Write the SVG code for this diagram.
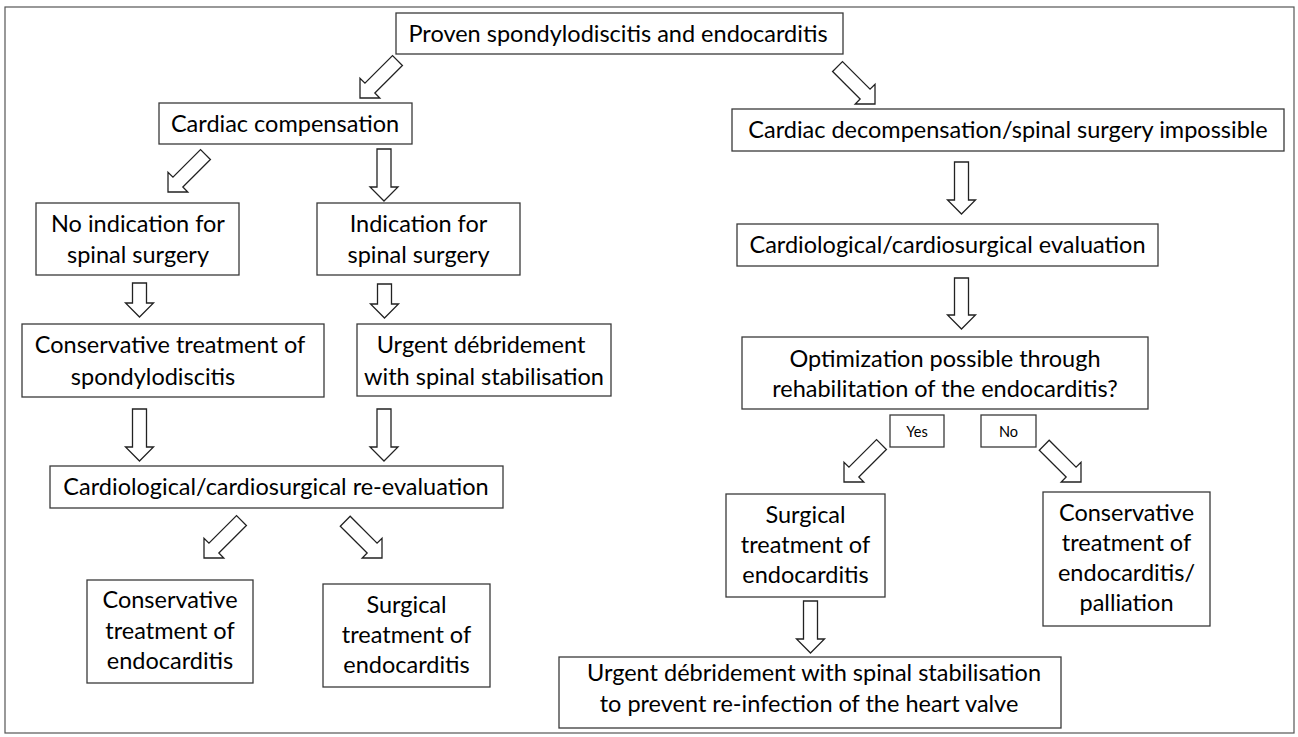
<svg xmlns="http://www.w3.org/2000/svg" width="1298" height="737" viewBox="0 0 1298 737">
<style>
.box{fill:#fff;stroke:#3a3a3a;stroke-width:1.3}
.arr{fill:#fff;stroke:#222;stroke-width:1.3;stroke-linejoin:miter}
text{font-family:Lato,"Open Sans","Liberation Sans",sans-serif;font-size:23.5px;fill:#000;text-anchor:middle}
.sm{font-size:14.5px}
</style>
<rect x="5" y="7" width="1289" height="726" fill="#fff" stroke="#555" stroke-width="1.2"/>
<g id="connectors">
<path class="arr" transform="translate(360,98) rotate(135)" d="M0,0 L-14,-14 L-14,-7 L-53,-7 L-53,7 L-14,7 L-14,14 Z"/>
<path class="arr" transform="translate(875,104) rotate(45)" d="M0,0 L-14,-14 L-14,-7 L-53,-7 L-53,7 L-14,7 L-14,14 Z"/>
<path class="arr" transform="translate(168,192) rotate(135)" d="M0,0 L-14,-14 L-14,-7 L-53,-7 L-53,7 L-14,7 L-14,14 Z"/>
<path class="arr" transform="translate(384,201) rotate(90)" d="M0,0 L-14,-14 L-14,-7 L-52,-7 L-52,7 L-14,7 L-14,14 Z"/>
<path class="arr" transform="translate(139.5,317) rotate(90)" d="M0,0 L-14,-14 L-14,-7 L-34,-7 L-34,7 L-14,7 L-14,14 Z"/>
<path class="arr" transform="translate(384.5,318) rotate(90)" d="M0,0 L-14,-14 L-14,-7 L-34,-7 L-34,7 L-14,7 L-14,14 Z"/>
<path class="arr" transform="translate(139.5,461) rotate(90)" d="M0,0 L-14,-14 L-14,-7 L-52,-7 L-52,7 L-14,7 L-14,14 Z"/>
<path class="arr" transform="translate(384,461) rotate(90)" d="M0,0 L-14,-14 L-14,-7 L-52,-7 L-52,7 L-14,7 L-14,14 Z"/>
<path class="arr" transform="translate(204,558) rotate(135)" d="M0,0 L-14,-14 L-14,-7 L-53,-7 L-53,7 L-14,7 L-14,14 Z"/>
<path class="arr" transform="translate(382,558) rotate(45)" d="M0,0 L-14,-14 L-14,-7 L-52,-7 L-52,7 L-14,7 L-14,14 Z"/>
<path class="arr" transform="translate(961.5,214) rotate(90)" d="M0,0 L-14,-14 L-14,-7 L-52,-7 L-52,7 L-14,7 L-14,14 Z"/>
<path class="arr" transform="translate(961.5,329) rotate(90)" d="M0,0 L-14,-14 L-14,-7 L-51,-7 L-51,7 L-14,7 L-14,14 Z"/>
<path class="arr" transform="translate(844,482) rotate(135)" d="M0,0 L-14,-14 L-14,-7 L-53,-7 L-53,7 L-14,7 L-14,14 Z"/>
<path class="arr" transform="translate(1081,482) rotate(45)" d="M0,0 L-14,-14 L-14,-7 L-52,-7 L-52,7 L-14,7 L-14,14 Z"/>
<path class="arr" transform="translate(810.5,653) rotate(90)" d="M0,0 L-14,-14 L-14,-7 L-52,-7 L-52,7 L-14,7 L-14,14 Z"/>
</g>
<g id="n-proven"><rect class="box" x="396" y="13" width="447" height="41"/><text x="618" y="42">Proven spondylodiscitis and endocarditis</text></g>
<g id="n-comp"><rect class="box" x="159" y="103" width="253" height="41"/><text x="285" y="132">Cardiac compensation</text></g>
<g id="n-decomp"><rect class="box" x="732" y="109" width="552" height="42"/><text x="1008" y="138">Cardiac decompensation/spinal surgery impossible</text></g>
<g id="n-noind"><rect class="box" x="36" y="203" width="203" height="72"/><text x="138" y="232">No indication for</text><text x="138" y="263">spinal surgery</text></g>
<g id="n-ind"><rect class="box" x="317" y="203" width="203" height="72"/><text x="418.5" y="232">Indication for</text><text x="418.5" y="263">spinal surgery</text></g>
<g id="n-eval"><rect class="box" x="737" y="224" width="421" height="42"/><text x="947.5" y="253">Cardiological/cardiosurgical evaluation</text></g>
<g id="n-constreat"><rect class="box" x="22" y="324" width="302" height="73"/><text x="170" y="353">Conservative treatment of</text><text x="153" y="385">spondylodiscitis</text></g>
<g id="n-urgent"><rect class="box" x="357" y="324" width="254" height="72"/><text x="481" y="353">Urgent débridement</text><text x="484" y="385">with spinal stabilisation</text></g>
<g id="n-opt"><rect class="box" x="742" y="337" width="406" height="72"/><text x="945" y="367">Optimization possible through</text><text x="945" y="397">rehabilitation of the endocarditis?</text></g>
<g id="n-yes"><rect class="box" x="890" y="415" width="54" height="32"/><text class="sm" x="917" y="437">Yes</text></g>
<g id="n-no"><rect class="box" x="981" y="415" width="55" height="32"/><text class="sm" x="1008.5" y="437">No</text></g>
<g id="n-reeval"><rect class="box" x="50" y="466" width="453" height="42"/><text x="276" y="495">Cardiological/cardiosurgical re-evaluation</text></g>
<g id="n-consendo-l"><rect class="box" x="87" y="580" width="166" height="103"/><text x="170" y="608">Conservative</text><text x="170" y="639">treatment of</text><text x="170" y="669">endocarditis</text></g>
<g id="n-surgendo-l"><rect class="box" x="323" y="584" width="167" height="103"/><text x="406.5" y="613">Surgical</text><text x="406.5" y="643">treatment of</text><text x="406.5" y="673">endocarditis</text></g>
<g id="n-surgendo-r"><rect class="box" x="726" y="494" width="159" height="103"/><text x="805.5" y="523">Surgical</text><text x="805.5" y="553">treatment of</text><text x="805.5" y="583">endocarditis</text></g>
<g id="n-consendo-r"><rect class="box" x="1043" y="492" width="167" height="134"/><text x="1126.5" y="521">Conservative</text><text x="1126.5" y="551">treatment of</text><text x="1126.5" y="581">endocarditis/</text><text x="1126.5" y="611">palliation</text></g>
<g id="n-final"><rect class="box" x="559" y="657" width="502" height="71"/><text x="814" y="681">Urgent débridement with spinal stabilisation</text><text x="809" y="712">to prevent re-infection of the heart valve</text></g>
</svg>
